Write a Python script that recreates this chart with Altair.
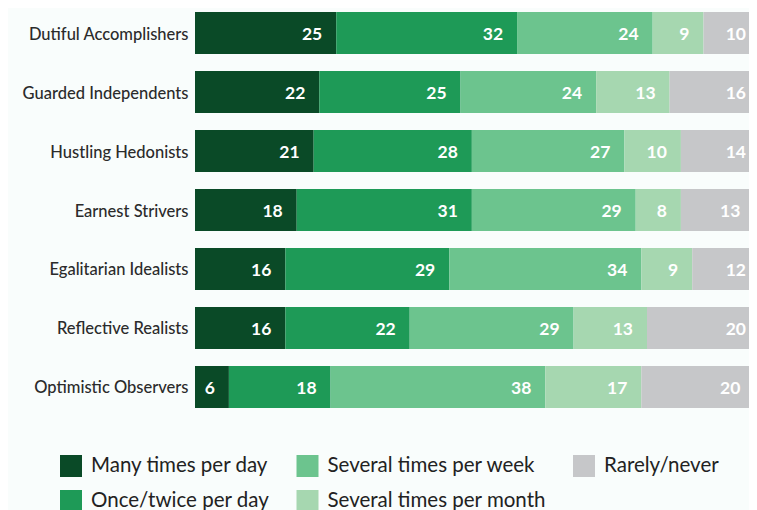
import altair as alt
import pandas as pd

categories = ["Dutiful Accomplishers", "Guarded Independents", "Hustling Hedonists",
              "Earnest Strivers", "Egalitarian Idealists", "Reflective Realists",
              "Optimistic Observers"]
series = ["Many times per day", "Once/twice per day", "Several times per week",
          "Several times per month", "Rarely/never"]
many_per_day = [25, 22, 21, 18, 16, 16, 6]
once_twice_day = [32, 25, 28, 31, 29, 22, 18]
several_week = [24, 24, 27, 29, 34, 29, 38]
several_month = [9, 13, 10, 8, 9, 13, 17]
rarely_never = [10, 16, 14, 13, 12, 20, 20]
colors = ["#0a4a27", "#1e9a57", "#6cc48e", "#a6d7b0", "#c6c7c9"]

values = [many_per_day, once_twice_day, several_week, several_month, rarely_never]
rows = []
for si, s in enumerate(series):
    for ci, c in enumerate(categories):
        rows.append({"category": c, "series": s, "order": si, "value": values[si][ci]})
df = pd.DataFrame(rows)

# legend in column-major visual order (Vega fills row-major)
legend_order = [series[0], series[2], series[4], series[1], series[3]]
legend_colors = [colors[0], colors[2], colors[4], colors[1], colors[3]]

FONT = "Lato"

base = alt.Chart(df).transform_stack(
    stack="value", groupby=["category"], as_=["x0", "x1"],
    sort=[alt.SortField("order", order="ascending")]
)

y = alt.Y("category:N", sort=categories, title=None,
          scale=alt.Scale(paddingInner=0.288, paddingOuter=0),
          axis=alt.Axis(ticks=False, domain=False, labelFontSize=16.5,
                        labelColor="#2b2b2b", labelPadding=7, labelFont=FONT,
                        labelFontWeight=500, labelOffset=1.5))

# the reference image is cropped at the right edge, so the visible range ends near 98
xscale = alt.Scale(domain=[0, 98.05], nice=False, zero=True)

bars = base.mark_bar(clip=True).encode(
    x=alt.X("x0:Q", scale=xscale, axis=None),
    x2="x1:Q",
    y=y,
    color=alt.Color("series:N",
                    scale=alt.Scale(domain=legend_order, range=legend_colors),
                    legend=alt.Legend(
                        title=None, orient="none", legendX=-135, legendY=443,
                        columns=3, direction="horizontal",
                        symbolType="square", symbolSize=484,
                        symbolStrokeWidth=0, symbolOpacity=1,
                        labelFontSize=20.5, labelFont=FONT, labelColor="#222222",
                        labelOffset=9, columnPadding=26.5, rowPadding=13,
                        labelLimit=400)),
)

labels = base.mark_text(align="right", baseline="middle", dx=-14, dy=2,
                        color="white", fontSize=17.5, fontWeight="bold",
                        font=FONT).encode(
    x=alt.X("x1:Q", scale=xscale, axis=None),
    y=y,
    text="value:Q",
)

chart = (bars + labels).properties(
    width=554, height=396,
    autosize=alt.AutoSizeParams(type="none"),
    padding={"left": 187, "top": 4, "right": 0, "bottom": 102},
    background="#f9fdfc",
).configure_view(stroke=None)

chart.save("out.html", embed_options={"renderer": "svg", "actions": False})
